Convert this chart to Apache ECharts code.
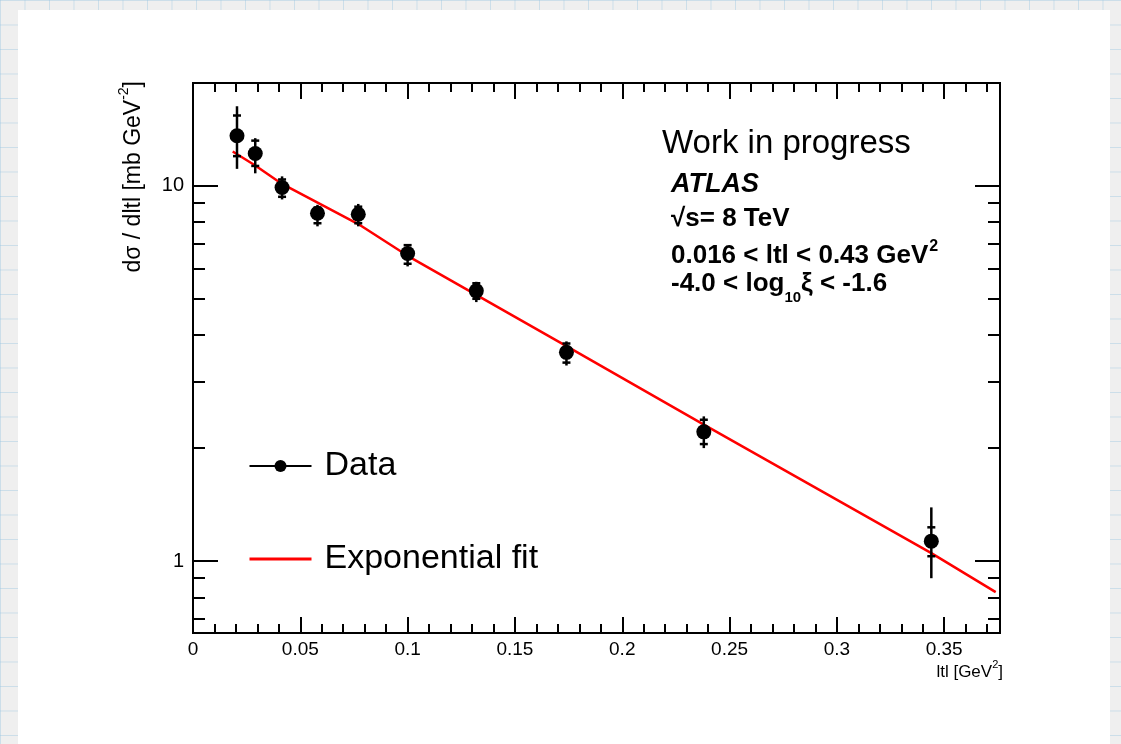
<!DOCTYPE html>
<html>
<head>
<meta charset="utf-8">
<title>ATLAS dσ/d|t|</title>
<script src="https://cdn.jsdelivr.net/npm/echarts@6/dist/echarts.min.js"></script>
<style>
  html, body {
    margin: 0;
    padding: 0;
    width: 1121px;
    height: 744px;
    overflow: hidden;
    background-color: #efefef;
    background-image:
      linear-gradient(to right, rgba(150, 195, 225, 0.4) 1px, transparent 1px),
      linear-gradient(to bottom, rgba(150, 195, 225, 0.4) 1px, transparent 1px);
    background-size: 24.5px 24.5px;
  }
  #card {
    position: absolute;
    left: 18px;
    top: 10px;
    width: 1092px;
    height: 760px;
    background: #fff;
  }
  #chart {
    position: absolute;
    left: 0;
    top: 0;
    width: 1121px;
    height: 744px;
  }
</style>
</head>
<body>
<div id="card"></div>
<div id="chart"></div>
<script>
// measured points, |t| in GeV^2, dsigma/d|t| in mb GeV^-2
const tValues = [0.0205, 0.029, 0.0415, 0.058, 0.077, 0.1, 0.132, 0.174, 0.238, 0.344]
const dSigma = [13.6, 12.2, 9.9, 8.45, 8.4, 6.6, 5.25, 3.6, 2.21, 1.13]
const totalLow = [11.1, 10.8, 9.2, 7.8, 7.8, 6.1, 4.9, 3.32, 2.0, 0.9]
const totalHigh = [16.3, 13.4, 10.6, 8.9, 8.95, 7.0, 5.55, 3.85, 2.43, 1.39]
const statLow = [12.0, 11.3, 9.35, 7.95, 7.95, 6.2, 5.0, 3.38, 2.05, 1.03]
const statHigh = [15.4, 13.2, 10.4, 8.75, 8.8, 6.95, 5.5, 3.8, 2.38, 1.23]

// exponential fit curve
const fitT = [0.0185, 0.029, 0.0415, 0.077, 0.1, 0.174, 0.238, 0.344, 0.374]
const fitY = [12.35, 11.33, 10.12, 7.91, 6.51, 3.74, 2.31, 1.05, 0.826]

// axis ticks
const xMajorTicks = [0, 0.05, 0.1, 0.15, 0.2, 0.25, 0.3, 0.35]
const xMinorTicks = [0.01, 0.02, 0.03, 0.04, 0.06, 0.07, 0.08, 0.09, 0.11, 0.12, 0.13, 0.14,
  0.16, 0.17, 0.18, 0.19, 0.21, 0.22, 0.23, 0.24, 0.26, 0.27, 0.28, 0.29,
  0.31, 0.32, 0.33, 0.34, 0.36, 0.37]
const yMajorTicks = [1, 10]
const yMinorTicks = [0.7, 0.8, 0.9, 2, 3, 4, 5, 6, 7, 8, 9]

const FONT = '"Liberation Sans", Arial, Helvetica, sans-serif'
const X_MIN = 0
const X_MAX = 0.376
const Y_MIN = 0.643
const Y_MAX = 18.8

const chart = echarts.init(document.getElementById('chart'), null, { renderer: 'canvas' })

const frameLine = { show: true, onZero: false, lineStyle: { color: '#000', width: 2 } }

// one x axis per tick family (major/minor) and side (bottom/top)
function makeXAxis(position, ticks, length, withLabels) {
  return {
    type: 'value',
    position: position,
    min: X_MIN,
    max: X_MAX,
    axisLine: frameLine,
    splitLine: { show: false },
    axisTick: {
      show: true,
      inside: true,
      length: length,
      customValues: ticks,
      lineStyle: { color: '#000', width: 2 },
    },
    axisLabel: withLabels
      ? {
          show: true,
          customValues: xMajorTicks,
          color: '#000',
          fontSize: 19,
          fontFamily: FONT,
          margin: 7,
          formatter: (v) => String(v),
        }
      : { show: false },
  }
}

function makeYAxis(position, ticks, length, withLabels) {
  return {
    type: 'log',
    logBase: 10,
    position: position,
    min: Y_MIN,
    max: Y_MAX,
    axisLine: frameLine,
    splitLine: { show: false },
    minorTick: { show: false },
    axisTick: {
      show: true,
      inside: true,
      length: length,
      customValues: ticks,
      lineStyle: { color: '#000', width: 2 },
    },
    axisLabel: withLabels
      ? {
          show: true,
          customValues: yMajorTicks,
          color: '#000',
          fontSize: 20,
          fontFamily: FONT,
          margin: 9,
          formatter: (v) => String(Math.round(v)),
        }
      : { show: false },
  }
}

function renderErrorBar(params, api) {
  const x = api.value(0)
  const lo = api.coord([x, api.value(1)])
  const hi = api.coord([x, api.value(2)])
  const sLo = api.coord([x, api.value(3)])
  const sHi = api.coord([x, api.value(4)])
  const style = { stroke: '#000', lineWidth: 2.5 }
  const cap = 4
  return {
    type: 'group',
    children: [
      { type: 'line', shape: { x1: lo[0], y1: lo[1], x2: hi[0], y2: hi[1] }, style },
      { type: 'line', shape: { x1: sLo[0] - cap, y1: sLo[1], x2: sLo[0] + cap, y2: sLo[1] }, style },
      { type: 'line', shape: { x1: sHi[0] - cap, y1: sHi[1], x2: sHi[0] + cap, y2: sHi[1] }, style },
    ],
  }
}

const boldText = { fontFamily: FONT, fontWeight: 'bold', fontSize: 26 }

function infoText(y, style) {
  return {
    type: 'text',
    x: 671,
    y: y,
    style: Object.assign({ fill: '#000', align: 'left', verticalAlign: 'middle' }, boldText, style),
  }
}

const option = {
  backgroundColor: 'transparent',
  animation: false,
  textStyle: { fontFamily: FONT },
  grid: { left: 193, right: 121, top: 83, bottom: 111, containLabel: false },
  xAxis: [
    makeXAxis('bottom', xMajorTicks, 16, true),
    makeXAxis('bottom', xMinorTicks, 9, false),
    makeXAxis('top', xMajorTicks, 16, false),
    makeXAxis('top', xMinorTicks, 9, false),
  ],
  yAxis: [
    makeYAxis('left', yMajorTicks, 25, true),
    makeYAxis('left', yMinorTicks, 12, false),
    makeYAxis('right', yMajorTicks, 25, false),
    makeYAxis('right', yMinorTicks, 12, false),
  ],
  legend: {
    orient: 'vertical',
    left: 243,
    top: 443,
    itemWidth: 62,
    itemHeight: 15,
    itemGap: 57,
    selectedMode: false,
    textStyle: {
      color: '#000',
      fontSize: 34,
      fontFamily: FONT,
      lineHeight: 36,
      padding: [0, 0, 0, 8],
    },
    data: [
      {
        name: 'Data',
        itemStyle: { color: '#000' },
        lineStyle: { color: '#000', width: 2, opacity: 1 },
      },
      {
        name: 'Exponential fit',
        itemStyle: { opacity: 0 },
        lineStyle: { color: '#ff0000', width: 3, opacity: 1 },
      },
    ],
  },
  graphic: [
    {
      type: 'text',
      x: 662,
      y: 144,
      style: {
        text: 'Work in progress',
        fill: '#000',
        fontFamily: FONT,
        fontSize: 33,
        align: 'left',
        verticalAlign: 'middle',
      },
    },
    infoText(185, { text: 'ATLAS', fontStyle: 'italic', fontSize: 27 }),
    infoText(219, { text: '√s= 8 TeV' }),
    infoText(254, {
      text: '{m|0.016 < ltl < 0.43 GeV}{sup|2}',
      rich: {
        m: { fontFamily: FONT, fontWeight: 'bold', fontSize: 26, lineHeight: 30, verticalAlign: 'bottom' },
        sup: { fontFamily: FONT, fontWeight: 'bold', fontSize: 16, lineHeight: 30, verticalAlign: 'top', padding: [0, 0, 0, 1] },
      },
    }),
    infoText(288, {
      text: '{m|-4.0 < log}{sub|10}{m|ξ < -1.6}',
      rich: {
        m: { fontFamily: FONT, fontWeight: 'bold', fontSize: 26, lineHeight: 34, verticalAlign: 'top' },
        sub: { fontFamily: FONT, fontWeight: 'bold', fontSize: 15, lineHeight: 34, verticalAlign: 'bottom' },
      },
    }),
    {
      // y axis title, reads bottom to top, aligned to the top of the axis
      type: 'text',
      x: 131,
      y: 81,
      rotation: Math.PI / 2,
      style: {
        text: '{m|dσ / dltl [mb GeV}{sup|-2}{m|]}',
        align: 'right',
        verticalAlign: 'middle',
        fill: '#000',
        rich: {
          m: { fontFamily: FONT, fontSize: 23, lineHeight: 28, verticalAlign: 'bottom' },
          sup: { fontFamily: FONT, fontSize: 14, lineHeight: 28, verticalAlign: 'top' },
        },
      },
    },
    {
      // x axis title, right aligned to the end of the axis
      type: 'text',
      x: 1003,
      y: 670,
      style: {
        text: '{m|ltl [GeV}{sup|2}{m|]}',
        align: 'right',
        verticalAlign: 'middle',
        fill: '#000',
        rich: {
          m: { fontFamily: FONT, fontSize: 17, lineHeight: 22, verticalAlign: 'bottom' },
          sup: { fontFamily: FONT, fontSize: 11, lineHeight: 22, verticalAlign: 'top' },
        },
      },
    },
  ],
  series: [
    {
      name: 'Exponential fit',
      type: 'line',
      xAxisIndex: 0,
      yAxisIndex: 0,
      data: fitT.map((t, i) => [t, fitY[i]]),
      symbol: 'none',
      lineStyle: { color: '#ff0000', width: 2.5 },
      itemStyle: { color: '#ff0000' },
      z: 2,
    },
    {
      name: 'Data errors',
      type: 'custom',
      xAxisIndex: 0,
      yAxisIndex: 0,
      renderItem: renderErrorBar,
      data: tValues.map((t, i) => [t, totalLow[i], totalHigh[i], statLow[i], statHigh[i]]),
      z: 3,
    },
    {
      name: 'Data',
      type: 'line',
      xAxisIndex: 0,
      yAxisIndex: 0,
      data: tValues.map((t, i) => [t, dSigma[i]]),
      symbol: 'circle',
      symbolSize: 15,
      itemStyle: { color: '#000' },
      lineStyle: { color: '#000', width: 2, opacity: 0 },
      z: 4,
    },
  ],
}

chart.setOption(option)
</script>
</body>
</html>
